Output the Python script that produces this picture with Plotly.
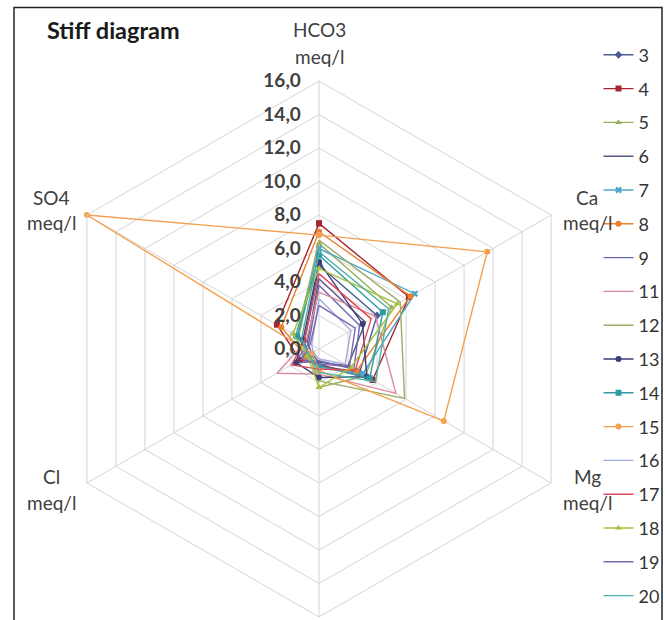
import plotly.graph_objects as go

# Ion axes, clockwise from the top
axes = ["HCO3", "Ca", "Mg", "Na+K", "Cl", "SO4"]
unit = "meq/l"

# Sample numbers (one polygon per sample)
samples = ["3", "4", "5", "6", "7", "8", "9", "11", "12", "13", "14", "15", "16", "17", "18", "19", "20"]

# Concentrations in meq/l, one value per sample (same order as `samples`)
hco3 = [5.0, 7.5, 6.3, 4.2, 6.0, 7.0, 3.8, 3.4, 6.5, 5.2, 5.6, 6.8, 3.0, 4.5, 4.8, 2.6, 5.8]
ca   = [4.0, 6.2, 5.0, 3.2, 6.6, 6.3, 2.8, 3.9, 5.6, 3.0, 4.4, 11.6, 2.2, 3.6, 5.4, 2.5, 4.8]
mg   = [2.8, 3.7, 3.2, 2.0, 3.0, 2.6, 2.4, 5.3, 5.9, 3.3, 3.5, 8.6, 1.8, 2.5, 2.2, 2.1, 3.9]
na_k = [1.0, 0.9, 2.3, 0.8, 1.1, 1.2, 0.7, 1.5, 1.9, 1.7, 1.0, 1.3, 0.6, 1.2, 2.3, 0.9, 1.4]
cl   = [0.8, 1.3, 0.6, 0.5, 1.0, 0.9, 1.7, 2.9, 0.7, 1.6, 0.6, 0.5, 0.4, 1.9, 0.8, 1.2, 0.7]
so4  = [1.0, 2.9, 1.4, 0.8, 1.6, 2.6, 0.7, 0.9, 1.5, 1.1, 1.5, 16.0, 0.5, 1.0, 1.8, 0.6, 1.2]

# Radial ticks
radial_ticks = [0, 2, 4, 6, 8, 10, 12, 14, 16]

colors = ["#4a5a96", "#a6272f", "#96b05a", "#5d5580", "#4fa6c8", "#e9812f",
          "#6e64b4", "#d88b9b", "#9cad6a", "#3d3d7a", "#2e9aa6", "#f5a04f",
          "#a4acdc", "#e0485a", "#a5c23c", "#7c66b0", "#4fb0a4"]
symbols = ["diamond", "square", "triangle-up", None, "x", "circle",
           None, None, None, "circle", "square", "circle",
           None, None, "triangle-up", None, None]

fig = go.Figure()
for i, name in enumerate(samples):
    vals = [hco3[i], ca[i], mg[i], na_k[i], cl[i], so4[i]]
    r = vals + vals[:1]
    theta = axes + axes[:1]
    sym = symbols[i]
    fig.add_trace(go.Scatterpolar(
        r=r, theta=theta, name=name, legendgroup=name,
        mode="lines+markers" if sym else "lines",
        line=dict(color=colors[i], width=1.4),
        marker=dict(symbol=sym or "circle", size=6, color=colors[i]),
    ))

W, H = 665, 620
cx, cy, R = 319, 349, 268  # pixel centre and radius of the hexagon

# Axis captions (ion name over unit); the bottom axis caption falls below the frame
captions = {
    "HCO3": (319, 30, 57),
    "Ca": (587, 197, 223),
    "Mg": (587, 476, 502),
    "Cl": (51, 476, 502),
    "SO4": (51, 197, 223),
}
annotations = [dict(
    text="<b>Stiff diagram</b>", xref="paper", yref="paper",
    x=45 / W, y=1 - 30 / H, xanchor="left", yanchor="middle",
    showarrow=False, font=dict(size=23.5, color="#1a1a1a"),
)]
for ion, (x, y1, y2) in captions.items():
    for txt, y in ((ion, y1), (unit, y2)):
        annotations.append(dict(
            text=txt, xref="paper", yref="paper", x=x / W, y=1 - y / H,
            xanchor="center", yanchor="middle", showarrow=False,
            font=dict(size=19, color="#404040"),
        ))

fig.update_layout(
    width=W, height=H,
    margin=dict(l=0, r=0, t=0, b=0),
    paper_bgcolor="white",
    separators=",.",
    font=dict(family="Lato, Open Sans, sans-serif", color="#404040"),
    polar=dict(
        domain=dict(x=[(cx - R) / W, (cx + R) / W],
                    y=[(H - cy - R) / H, (H - cy + R) / H]),
        gridshape="linear",
        bgcolor="white",
        radialaxis=dict(
            range=[0, 16], tickvals=radial_ticks, tickformat=".1f",
            angle=90, side="counterclockwise", tickangle=90,
            showline=False, gridcolor="#d4d4d4", gridwidth=1,
            ticks="outside", ticklen=11, tickcolor="rgba(0,0,0,0)",
            tickfont=dict(size=19, color="#404040", family="Lato, sans-serif", weight="bold"),
        ),
        angularaxis=dict(
            rotation=90, direction="clockwise",
            categoryarray=axes, categoryorder="array",
            showline=True, linecolor="#d4d4d4", linewidth=1,
            gridcolor="#d4d4d4", gridwidth=1,
            ticks="", showticklabels=False,
        ),
    ),
    legend=dict(
        x=0.9, xanchor="left", y=0.941, yanchor="top",
        font=dict(size=18, color="#333333"),
        tracegroupgap=7.4, bgcolor="rgba(0,0,0,0)",
    ),
    annotations=annotations,
    shapes=[dict(
        type="rect", xref="paper", yref="paper",
        x0=14 / W, x1=662 / W, y0=-0.05, y1=1 - 7.5 / H,
        line=dict(color="#222222", width=1.5),
    )],
)

fig.write_html("out.html")
